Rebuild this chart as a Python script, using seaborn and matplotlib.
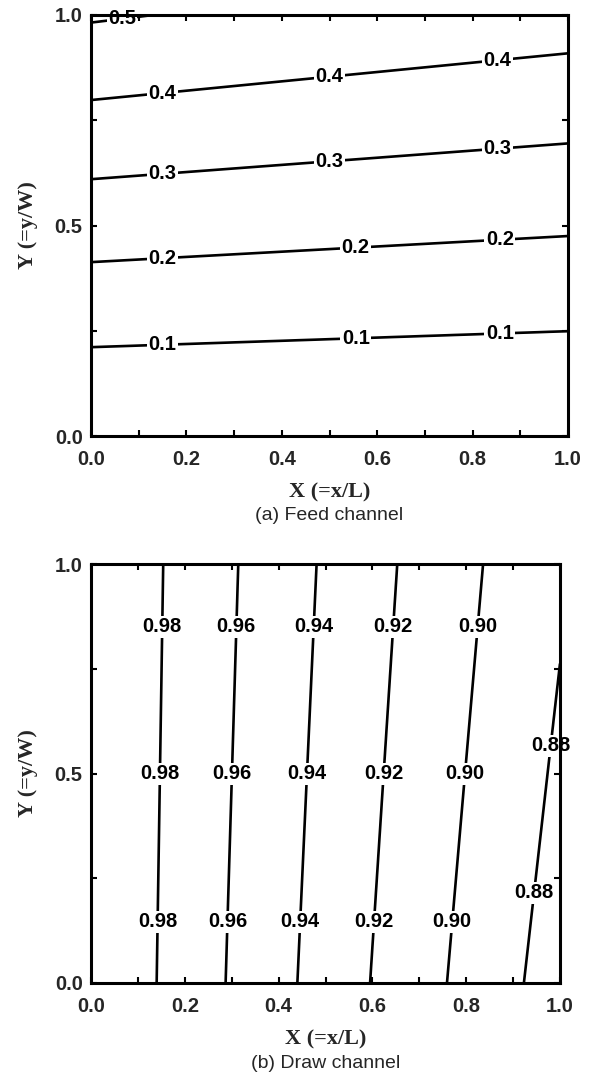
import numpy as np
import matplotlib
matplotlib.use("Agg")
import matplotlib.pyplot as plt
from matplotlib.ticker import MultipleLocator, FormatStrFormatter
import seaborn as sns

# ---- Feed channel: contour levels and where each line meets X=0 and X=1 ----
feed_levels = [0.0, 0.1, 0.2, 0.3, 0.4, 0.5, 0.6]
feed_y_at_x0 = [0.0, 0.211, 0.413, 0.610, 0.798, 0.982, 1.16]
feed_y_at_x1 = [0.0, 0.249, 0.475, 0.695, 0.909, 1.12, 1.33]
feed_drawn = [0.1, 0.2, 0.3, 0.4, 0.5]

# ---- Draw channel: contour levels and where each line meets Y=0 and Y=1 ----
draw_levels = [1.00, 0.98, 0.96, 0.94, 0.92, 0.90, 0.88, 0.86]
draw_x_at_y0 = [-0.01, 0.140, 0.287, 0.440, 0.595, 0.759, 0.923, 1.09]
draw_x_at_y1 = [-0.01, 0.154, 0.314, 0.481, 0.653, 0.836, 1.024, 1.19]
draw_drawn = [0.98, 0.96, 0.94, 0.92, 0.90, 0.88]

x_ticks = [0.0, 0.2, 0.4, 0.6, 0.8, 1.0]
y_ticks = [0.0, 0.5, 1.0]

sns.set_style("ticks")
plt.rcParams["font.family"] = ["Liberation Sans", "DejaVu Sans"]

grid = np.linspace(0.0, 1.0, 401)
GX, GY = np.meshgrid(grid, grid)

# feed field: each column interpolated between its contour crossings
feed_z = np.empty_like(GX)
y0 = np.array(feed_y_at_x0)
y1 = np.array(feed_y_at_x1)
for j, xv in enumerate(grid):
    feed_z[:, j] = np.interp(grid, y0 + (y1 - y0) * xv, feed_levels)

# draw field: each row interpolated between its contour crossings
draw_z = np.empty_like(GX)
xa = np.array(draw_x_at_y0)
xb = np.array(draw_x_at_y1)
for i, yv in enumerate(grid):
    draw_z[i, :] = np.interp(grid, xa + (xb - xa) * yv, draw_levels)

fig = plt.figure(figsize=(5.92, 10.79), dpi=100)
ax1 = fig.add_axes([91 / 592, 1 - 436 / 1079, 477 / 592, 421 / 1079])
ax2 = fig.add_axes([91 / 592, 1 - 983 / 1079, 469 / 592, 419 / 1079])

label_font = dict(family=["Liberation Serif", "DejaVu Serif"], weight="bold", size=16)


def style_axes(ax):
    ax.set_xlim(0, 1)
    ax.set_ylim(0, 1)
    ax.set_xticks(x_ticks)
    ax.set_yticks(y_ticks)
    ax.xaxis.set_minor_locator(MultipleLocator(0.1))
    ax.yaxis.set_minor_locator(MultipleLocator(0.25))
    ax.xaxis.set_major_formatter(FormatStrFormatter("%.1f"))
    ax.yaxis.set_major_formatter(FormatStrFormatter("%.1f"))
    ax.tick_params(which="both", direction="in", top=True, right=True,
                   length=4, width=1.5, color="black")
    ax.tick_params(which="major", labelsize=14.5, pad=6)
    ax.tick_params(axis="x", which="major", pad=10)
    for lab in ax.get_xticklabels() + ax.get_yticklabels():
        lab.set_fontweight("bold")
    for s in ax.spines.values():
        s.set_linewidth(2.2)
        s.set_color("black")
        s.set_zorder(10)
    ax.set_xlabel("X (=x/L)", fontdict=label_font, labelpad=10)
    ax.set_ylabel("Y (=y/W)", fontdict=label_font, labelpad=12)


def finish_labels(texts):
    for t in texts:
        t.set_rotation(0)
        t.set_fontweight("bold")
        t.set_zorder(5)
        t.set_clip_on(False)
        t.set_bbox(dict(facecolor="white", edgecolor="none", pad=1.0))


# (a) feed channel
cs1 = ax1.contour(GX, GY, feed_z, levels=sorted(feed_drawn), colors="black", linewidths=1.9)
feed_label_spots = []
for lev, a, b in zip(feed_levels, feed_y_at_x0, feed_y_at_x1):
    if lev in (0.1, 0.2):
        xs = [0.15, 0.555, 0.857]
    elif lev in (0.3, 0.4):
        xs = [0.15, 0.50, 0.852]
    elif lev == 0.5:
        xs = [0.065]
    else:
        continue
    for xv in xs:
        feed_label_spots.append((xv, a + (b - a) * xv))
t1 = ax1.clabel(cs1, inline=False, fmt="%.1f", fontsize=14.5, manual=feed_label_spots)
finish_labels(t1)
style_axes(ax1)
ax1.text(0.5, -0.188, "(a) Feed channel", transform=ax1.transAxes,
         ha="center", va="center", fontsize=14)

# (b) draw channel
cs2 = ax2.contour(GX, GY, draw_z, levels=sorted(draw_drawn), colors="black", linewidths=1.9)
draw_label_spots = []
for lev, a, b in zip(draw_levels, draw_x_at_y0, draw_x_at_y1):
    if lev in (0.98, 0.96, 0.94, 0.92, 0.90):
        ys = [0.146, 0.499, 0.85]
    elif lev == 0.88:
        ys = [0.215, 0.566]
    else:
        continue
    for yv in ys:
        draw_label_spots.append((a + (b - a) * yv, yv))
t2 = ax2.clabel(cs2, inline=False, fmt="%.2f", fontsize=14.5, manual=draw_label_spots)
finish_labels(t2)
style_axes(ax2)
ax2.text(0.5, -0.191, "(b) Draw channel", transform=ax2.transAxes,
         ha="center", va="center", fontsize=14)

fig.savefig("out.png", dpi=100, facecolor="white")
